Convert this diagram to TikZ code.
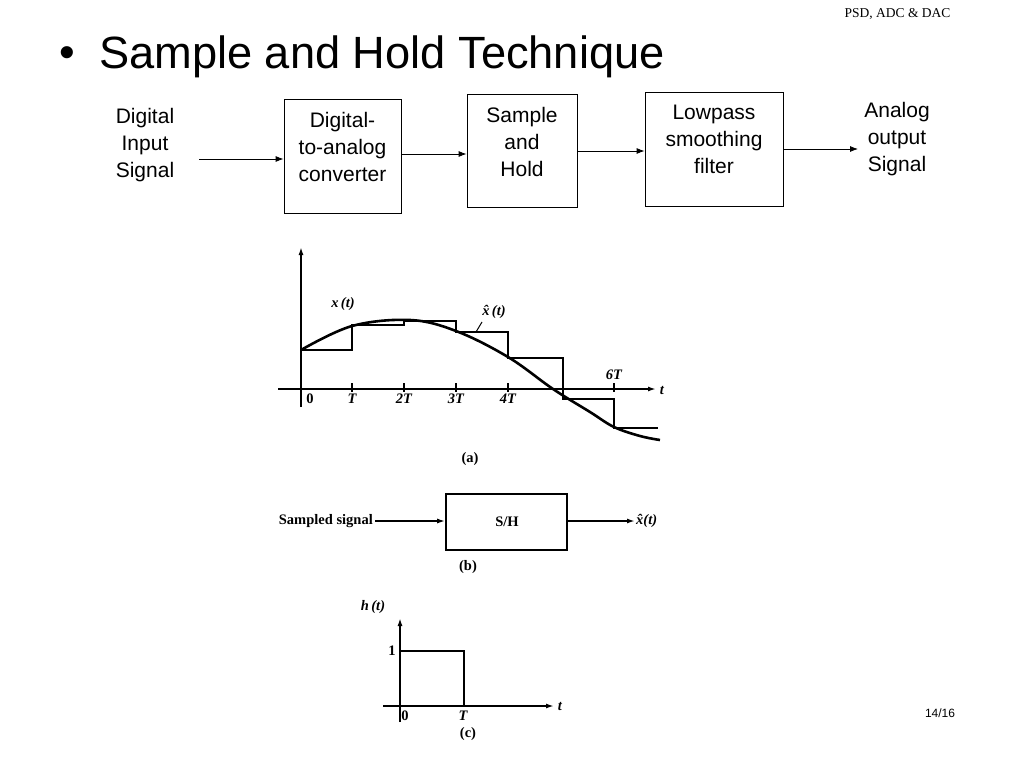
\documentclass[tikz,border=0pt]{standalone}
\usepackage{fontspec}
\setmainfont{Liberation Sans}
\newfontfamily\timesf{Liberation Serif}
\usetikzlibrary{arrows.meta}
\begin{document}
\begin{tikzpicture}[x=1pt,y=-1pt,
  blk/.style={draw,line width=0.8pt,inner sep=0pt},
  lbl/.style={align=center,font=\fontsize{21}{27}\selectfont},
  conn/.style={-{Latex[length=8pt,width=6pt]},line width=0.8pt},
  scanarr/.style={line width=1.6pt,-{Latex[length=8pt,width=5pt]}},
  sl/.style={font=\timesf\bfseries\fontsize{14.5}{16}\selectfont,inner sep=0pt},
  sli/.style={font=\timesf\bfseries\itshape\fontsize{14.5}{16}\selectfont,inner sep=0pt}]
\useasboundingbox (0,0) rectangle (1024,768);
\fill[white] (0,0) rectangle (1024,768);
% header
\node[font=\timesf\fontsize{13.5}{16}\selectfont,anchor=east] (hdr) at (954,14) {PSD, ADC \& DAC};
\node[font=\fontsize{12}{14}\selectfont] (pg) at (940,713) {14/16};
\node[font=\fontsize{44.7}{50}\selectfont] (bul) at (67,57) {•};
\node[font=\fontsize{45.2}{50}\selectfont,anchor=west,inner sep=0pt] (title) at (99,57) {Sample and Hold Technique};
% block diagram
\node[lbl] (din) at (145,145) {Digital\\Input\\Signal};
\node[blk,minimum width=117pt,minimum height=114pt] (dac) at (342.5,156) {};
\node[lbl] (dact) at (342.5,147) {Digital-\\to-analog\\converter};
\node[blk,minimum width=110pt,minimum height=113pt] (sh) at (522,150.5) {};
\node[lbl] (sht) at (522,142) {Sample\\and\\Hold};
\node[blk,minimum width=138pt,minimum height=114pt] (lpf) at (714,149) {};
\node[lbl] (lpft) at (714,139) {Lowpass\\smoothing\\filter};
\node[lbl] (aout) at (897,139) {Analog\\output\\Signal};
\coordinate (a0) at (199,159);
\draw[conn] (a0) -- (dac.west |- a0);
\draw[conn] (dac.east |- 0,154) -- (sh.west |- 0,154);
\draw[conn] (sh.east |- 0,151) -- (lpf.west |- 0,151);
\coordinate (a4) at (858,149);
\draw[conn] (lpf.east |- a4) -- (a4);
% (a) plot
\coordinate (ya0) at (301,407);
\coordinate (ya1) at (301,247);
\coordinate (xa0) at (278,389);
\coordinate (xa1) at (656,389);
\draw[scanarr] (ya0) -- (ya1);
\draw[scanarr] (xa0) -- (xa1);
\node[sli] (ta) at (662,390) {t};
\foreach \x in {352,404,456,508,614}{
  \draw[line width=1.5pt] (\x,383) -- (\x,392);
}
\node[sl] (l0) at (310,399) {0};
\node[sli] (l1) at (352,399) {T};
\node[sli] (l2) at (404,399) {2T};
\node[sli] (l3) at (456,399) {3T};
\node[sli] (l4) at (508,399) {4T};
\node[sli] (l6) at (614,375) {6T};
\draw[line width=1.3pt] (301,350) -| (352,325) -| (404,321) -| (456,332) -| (508,358) -| (563,399) -| (614,428) -- (658,428);
\draw[line width=2.6pt] plot[smooth,tension=0.6] coordinates {(301,350) (352,326) (410,320) (456,331) (508,357) (553,389) (590,412) (614,427) (640,436) (660,440)};
\node[sli] (xt) at (343,304) {x\,(t)};
\node[sli] (xh) at (494,312) {\^{x}\,(t)};
\draw[line width=1pt] (482,322) -- (476,332);
\node[sl] (ca) at (470,459) {(a)};
% (b)
\node[sl,anchor=east] (ss) at (373,521) {Sampled signal};
\node[draw,line width=1.6pt,minimum width=121pt,minimum height=56pt,inner sep=0pt] (shb) at (506.5,522) {};
\node[sl] (sht2) at (507,522) {S/H};
\node[sli,anchor=west] (xo) at (636,521) {\^{x}(t)};
\draw[scanarr] ([xshift=2pt]ss.east) -- (shb.west |- ss.east);
\draw[scanarr] (shb.east |- xo.west) -- ([xshift=-1pt]xo.west);
\node[sl] (cb) at (468,567) {(b)};
% (c)
\coordinate (yc0) at (400,722);
\coordinate (yc1) at (400,618);
\coordinate (xc0) at (383,706);
\coordinate (xc1) at (554,706);
\draw[scanarr] (yc0) -- (yc1);
\draw[scanarr] (xc0) -- (xc1);
\node[sli] (tc) at (560,706) {t};
\node[sli] (ht) at (373,607) {h\,(t)};
\node[sl] (one) at (392,651) {1};
\draw[line width=1.8pt] (400,651) -- (464,651) -- (464,706);
\node[sl] (c0) at (405,716) {0};
\node[sli] (cT) at (463,716) {T};
\node[sl] (cc) at (468,734) {(c)};
\end{tikzpicture}
\end{document}
